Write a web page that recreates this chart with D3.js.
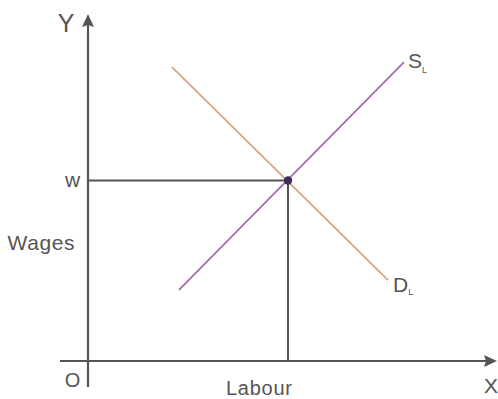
<!DOCTYPE html>
<html><head><meta charset="utf-8">
<script src="https://cdn.jsdelivr.net/npm/d3@7"></script>
<style>body{margin:0;background:#fff}svg{display:block}</style>
</head><body>
<script>
// Data (abstract units)
const supplyLine = [{x: 2.275, y: 1.97}, {x: 7.9, y: 8.28}];
const demandLine = [{x: 2.1, y: 8.14}, {x: 7.5, y: 2.24}];
const equilibrium = {x: 5, y: 5};
const labels = {supply: "S", demand: "D", sub: "L", wage: "w", yTitle: "Wages", xTitle: "Labour", xAxis: "X", yAxis: "Y", origin: "O"};

const W = 498, H = 399;
const x = d3.scaleLinear().domain([0, 10]).range([88, 488]);
const y = d3.scaleLinear().domain([0, 10]).range([361, 0]);

const svg = d3.select("body").append("svg").attr("width", W).attr("height", H);
const axisColor = "#555";
const font = "Liberation Sans, Arial, sans-serif";

// Axes
svg.append("line").attr("x1", 60).attr("x2", 486).attr("y1", y(0)).attr("y2", y(0))
  .attr("stroke", axisColor).attr("stroke-width", 2.2);
svg.append("path").attr("d", `M497,${y(0)} L484,${y(0)-6} L486,${y(0)} L484,${y(0)+6} Z`).attr("fill", axisColor);
svg.append("line").attr("x1", x(0)).attr("x2", x(0)).attr("y1", 387).attr("y2", 25)
  .attr("stroke", axisColor).attr("stroke-width", 2.2);
svg.append("path").attr("d", `M${x(0)},14 L${x(0)-6},27 L${x(0)},25 L${x(0)+6},27 Z`).attr("fill", axisColor);

// Guide lines
svg.append("line").attr("x1", x(0)).attr("x2", x(equilibrium.x)).attr("y1", y(equilibrium.y)).attr("y2", y(equilibrium.y))
  .attr("stroke", axisColor).attr("stroke-width", 2);
svg.append("line").attr("x1", x(equilibrium.x)).attr("x2", x(equilibrium.x)).attr("y1", y(equilibrium.y)).attr("y2", y(0))
  .attr("stroke", axisColor).attr("stroke-width", 2);

const line = d3.line().x(d => x(d.x)).y(d => y(d.y));
svg.append("path").attr("d", line(demandLine)).attr("stroke", "#d8a07a").attr("stroke-width", 1.6).attr("fill", "none");
svg.append("path").attr("d", line(supplyLine)).attr("stroke", "#a066a8").attr("stroke-width", 1.6).attr("fill", "none");

svg.append("circle").attr("cx", x(equilibrium.x)).attr("cy", y(equilibrium.y)).attr("r", 4.2).attr("fill", "#3e2a5e");

// Labels
const txt = (tx, ty, s, size, anchor) => svg.append("text").attr("x", tx).attr("y", ty).text(s)
  .attr("font-family", font).attr("font-size", size).attr("fill", axisColor).attr("text-anchor", anchor || "start");

txt(66, 32, labels.yAxis, 25, "middle");
txt(491, 393, labels.xAxis, 21, "middle");
txt(72.5, 387, labels.origin, 20, "middle");
txt(259, 395, labels.xTitle, 20, "middle").attr("textLength", 66);
txt(41, 250, labels.yTitle, 21, "middle").attr("textLength", 67);
txt(72.5, 187, labels.wage, 21, "middle");

const sl = txt(408, 68, labels.supply, 21);
sl.append("tspan").attr("font-size", 9).attr("dy", 5).text(labels.sub);
const dl = txt(393, 292, labels.demand, 21);
dl.append("tspan").attr("font-size", 9).attr("dy", 3).text(labels.sub);
</script>
</body></html>
